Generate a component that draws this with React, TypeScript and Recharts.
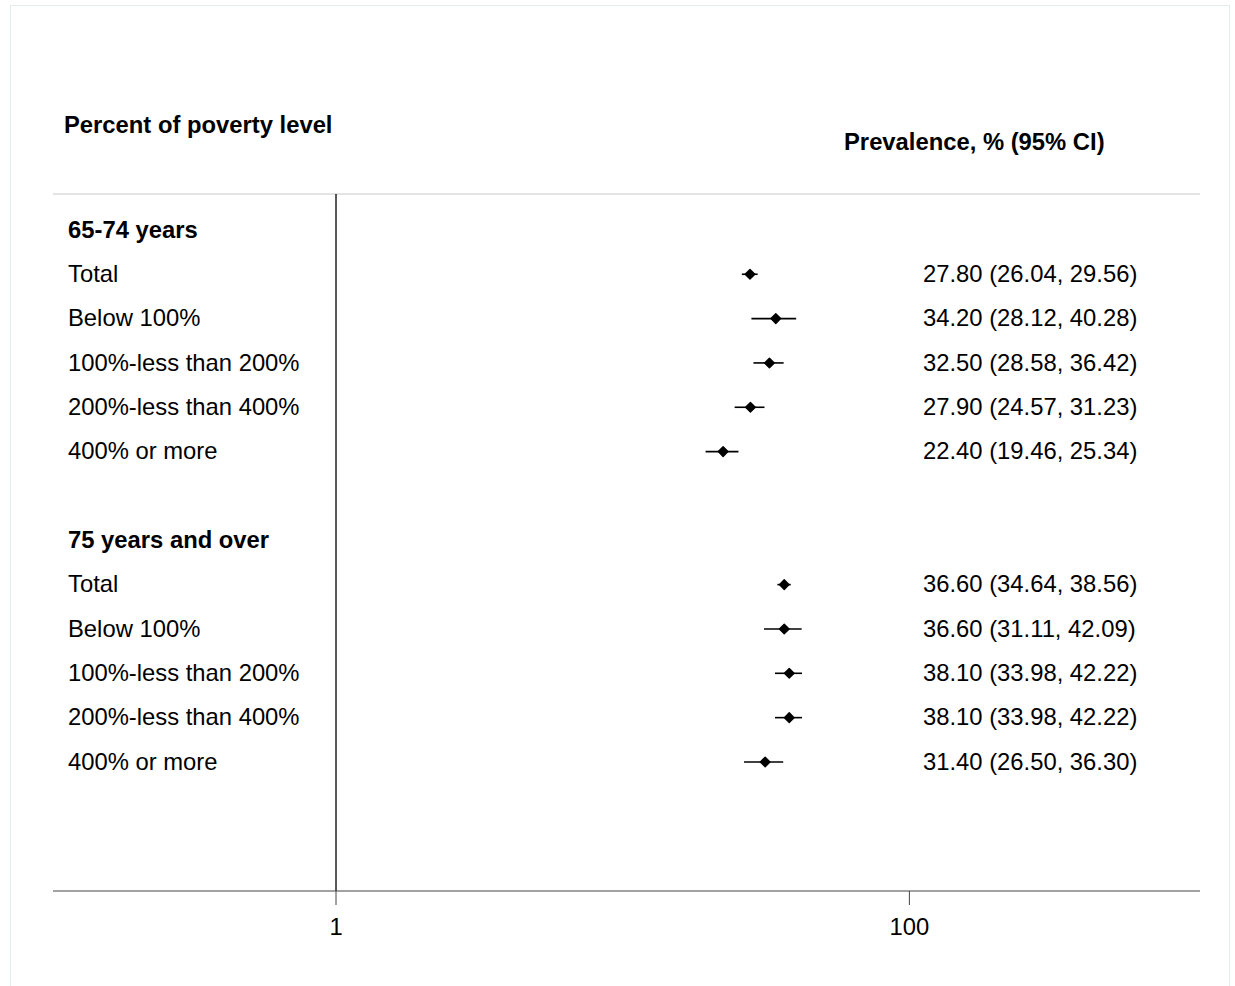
import { ScatterChart, Scatter, XAxis, YAxis, ErrorBar, ReferenceLine } from 'recharts';

const ageGroups = ['65-74 years', '75 years and over'];
const povertyLevels = ['Total', 'Below 100%', '100%-less than 200%', '200%-less than 400%', '400% or more'];

const prevalence6574 = [27.8, 34.2, 32.5, 27.9, 22.4];
const lower6574 = [26.04, 28.12, 28.58, 24.57, 19.46];
const upper6574 = [29.56, 40.28, 36.42, 31.23, 25.34];

const prevalence75 = [36.6, 36.6, 38.1, 38.1, 31.4];
const lower75 = [34.64, 31.11, 33.98, 33.98, 26.5];
const upper75 = [38.56, 42.09, 42.22, 42.22, 36.3];

const xTicks = [1, 100];

const FONT = '"Liberation Sans", Arial, Helvetica, sans-serif';

type Row = { row: number; label: string; header: boolean; est?: number; lo?: number; hi?: number };

const groupValues = [
  { est: prevalence6574, lo: lower6574, hi: upper6574 },
  { est: prevalence75, lo: lower75, hi: upper75 },
];

const rows: Row[] = [];
ageGroups.forEach((g, gi) => {
  if (gi > 0) rows.push({ row: rows.length, label: '', header: false });
  rows.push({ row: rows.length, label: g, header: true });
  povertyLevels.forEach((p, i) => {
    const v = groupValues[gi];
    rows.push({ row: rows.length, label: p, header: false, est: v.est[i], lo: v.lo[i], hi: v.hi[i] });
  });
});

const points = rows
  .filter((r) => r.est !== undefined)
  .map((r) => ({ ...r, err: [r.est! - r.lo!, r.hi! - r.est!] }));

const fmt = (n: number) => n.toFixed(2);

function RowTick(props: any) {
  const { y, payload } = props;
  const r = rows[payload.value];
  if (!r) return null;
  return (
    <g>
      <text x={68} y={y} dy="0.32em" fontFamily={FONT} fontSize={23.8} fontWeight={r.header ? 700 : 400} fill="#000" textAnchor="start">
        {r.label}
      </text>
      {r.est !== undefined && (
        <text x={923} y={y} dy="0.32em" fontFamily={FONT} fontSize={23.8} fill="#000" textAnchor="start">
          {`${fmt(r.est)} (${fmt(r.lo!)}, ${fmt(r.hi!)})`}
        </text>
      )}
    </g>
  );
}

function Diamond(props: any) {
  const { cx, cy } = props;
  const s = 4.8;
  return (
    <polygon
      points={`${cx},${cy - s} ${cx + s},${cy} ${cx},${cy + s} ${cx - s},${cy}`}
      fill="#000"
      stroke="#000"
      strokeWidth={1.4}
      strokeLinejoin="round"
    />
  );
}

export default function App() {
  return (
    <div style={{ position: 'absolute', left: 0, top: 0, width: 1235, height: 986, background: '#fff', overflow: 'hidden' }}>
      <div style={{ position: 'absolute', left: 10, top: 5, width: 1220, height: 1000, border: '1px solid #e4ecec', boxSizing: 'border-box' }} />
      <svg width={1235} height={986} style={{ position: 'absolute', left: 0, top: 0 }}>
        <text x={64} y={133} fontFamily={FONT} fontSize={23.8} fontWeight={700} fill="#000">Percent of poverty level</text>
        <text x={844} y={150} fontFamily={FONT} fontSize={23.8} fontWeight={700} fill="#000">Prevalence, % (95% CI)</text>
      </svg>
      <div style={{ position: 'absolute', left: 0, top: 0 }}>
        <ScatterChart width={1235} height={986} margin={{ top: 194, right: 35, bottom: 55, left: 52 }}>
          <XAxis
            type="number"
            dataKey="est"
            scale="log"
            domain={[0.103, 1032]}
            allowDataOverflow
            ticks={xTicks}
            interval={0}
            height={40}
            stroke="#444"
            tickSize={14}
            tickMargin={13}
            tick={{ fill: '#000', fontSize: 23.8, fontFamily: FONT }}
          />
          <YAxis
            type="number"
            dataKey="row"
            domain={[-0.81, 14.91]}
            reversed
            allowDataOverflow
            ticks={rows.map((r) => r.row)}
            interval={0}
            width={1}
            axisLine={false}
            tickLine={false}
            tick={<RowTick />}
          />
          <ReferenceLine y={-0.81} stroke="#c8c8c8" strokeWidth={1} />
          <ReferenceLine x={1} stroke="#000" strokeWidth={1.3} />
          <Scatter data={points} shape={<Diamond />} isAnimationActive={false}>
            <ErrorBar dataKey="err" direction="x" width={0} stroke="#000" strokeWidth={1.6} />
          </Scatter>
        </ScatterChart>
      </div>
    </div>
  );
}
